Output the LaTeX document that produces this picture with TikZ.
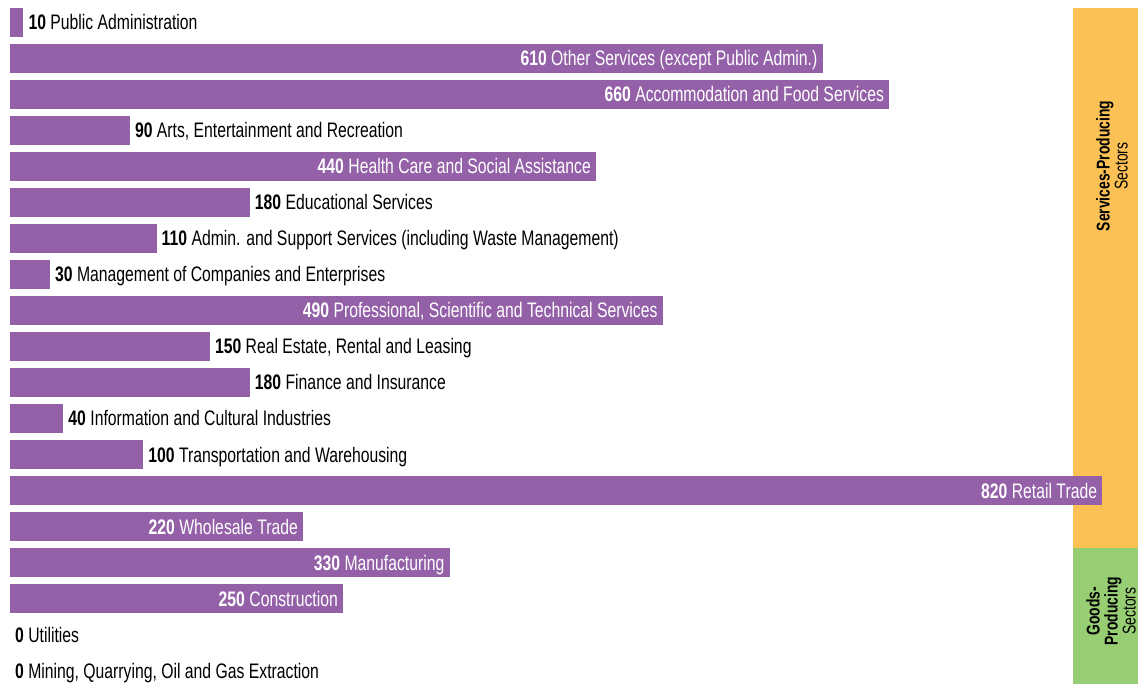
\documentclass[tikz,border=0pt]{standalone}
\usepackage{fontspec}
\setmainfont[FakeStretch=0.75]{Liberation Sans}
\usetikzlibrary{positioning}
\definecolor{mpurple}{HTML}{9461A8}
\definecolor{morange}{HTML}{FBC155}
\definecolor{mgreen}{HTML}{97CE73}

\begin{document}
\begin{tikzpicture}[x=1pt, y=-1pt,
    bar/.style={fill=mpurple},
    inlbl/.style={anchor=base east, inner sep=0pt, text=white, font=\fontsize{21}{22}\selectfont},
    outlbl/.style={anchor=base west, inner sep=0pt, text=black, font=\fontsize{21}{22}\selectfont},
    sector/.style={rotate=90, align=center, inner sep=0pt, font=\fontsize{18.5}{18}\selectfont}]
    \useasboundingbox (0,0) rectangle (1138,684);

    \fill [morange] (1073,8) rectangle (1138,548);
    \fill [mgreen] (1073,548) rectangle (1138,684);
    \node [sector] (svc) at (1112,166) {\textbf{Services-Producing}\\Sectors};
    \node [sector] (gds) at (1111,611) {\textbf{Goods-}\\\textbf{Producing}\\Sectors};

    \foreach \v/\t [count=\i from 0] in {
        10/Public Administration,
        610/Other Services (except Public Admin.),
        660/Accommodation and Food Services,
        90/{Arts, Entertainment and Recreation},
        440/Health Care and Social Assistance,
        180/Educational Services,
        110/Admin. and Support Services (including Waste Management),
        30/Management of Companies and Enterprises,
        490/{Professional, Scientific and Technical Services},
        150/{Real Estate, Rental and Leasing},
        180/Finance and Insurance,
        40/Information and Cultural Industries,
        100/Transportation and Warehousing,
        820/Retail Trade,
        220/Wholesale Trade,
        330/Manufacturing,
        250/Construction,
        0/Utilities,
        0/{Mining, Quarrying, Oil and Gas Extraction}} {
      \ifnum\v>0
        \fill [bar] (10,8+36*\i) rectangle ++(1.332*\v,29);
      \fi
      \ifnum\v>200
        \node [inlbl] (lbl\i) at (10+1.332*\v-5,30+36*\i) {\textbf{\v} \t};
      \else
        \node [outlbl] (lbl\i) at (10+1.332*\v+5,30+36*\i) {\textbf{\v} \t};
      \fi
    }
  \end{tikzpicture}
\end{document}
